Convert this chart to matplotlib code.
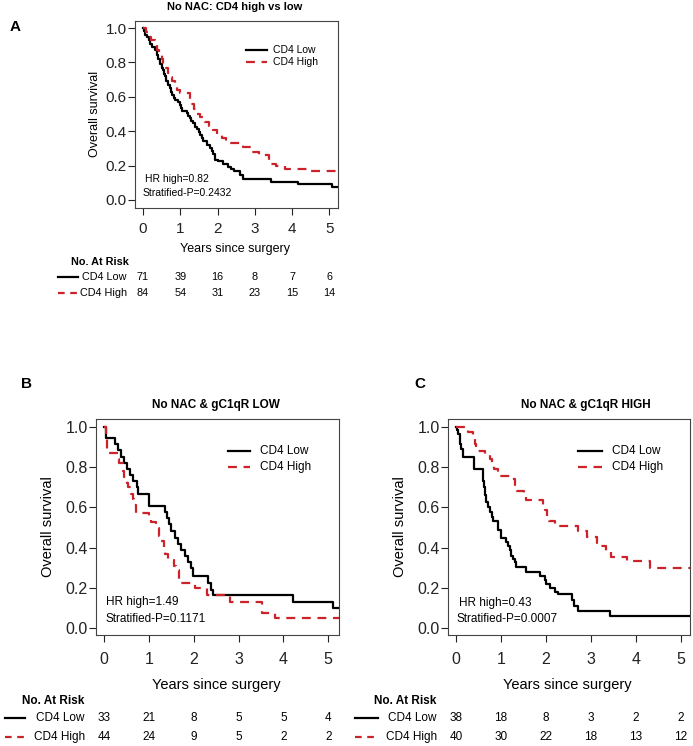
import numpy as np
import matplotlib
matplotlib.use("Agg")
import matplotlib.pyplot as plt
from matplotlib.lines import Line2D
from matplotlib.transforms import blended_transform_factory

plt.rcParams['font.family'] = ['Liberation Sans', 'DejaVu Sans']

W, H = 693, 746
RED = '#cc2229'

# ---- data (KM step points: time in years, survival) ----
a_low_t = [0, 0.03, 0.06, 0.10, 0.15, 0.19, 0.25, 0.32, 0.37, 0.41, 0.45, 0.50, 0.54, 0.57, 0.59,
           0.63, 0.68, 0.72, 0.75, 0.77, 0.82, 0.86, 0.93, 0.99, 1.02, 1.04, 1.17, 1.22, 1.26, 1.30,
           1.35, 1.40, 1.44, 1.50, 1.53, 1.57, 1.62, 1.71, 1.80, 1.86, 1.89, 1.93, 2.02, 2.15, 2.29,
           2.35, 2.45, 2.60, 2.69, 3.43, 4.16, 5.06]
a_low_s = [1.0, 0.985, 0.96, 0.945, 0.93, 0.91, 0.89, 0.87, 0.845, 0.82, 0.79, 0.77, 0.755, 0.735, 0.72,
           0.69, 0.67, 0.65, 0.63, 0.61, 0.595, 0.58, 0.57, 0.555, 0.535, 0.52, 0.505, 0.49, 0.475, 0.46,
           0.445, 0.425, 0.41, 0.395, 0.38, 0.36, 0.34, 0.32, 0.30, 0.285, 0.27, 0.235, 0.224, 0.21, 0.194,
           0.18, 0.168, 0.145, 0.12, 0.107, 0.091, 0.073]
a_high_t = [0, 0.08, 0.14, 0.22, 0.32, 0.38, 0.43, 0.50, 0.55, 0.60, 0.66, 0.72, 0.77, 0.85, 0.92, 1.0,
            1.27, 1.30, 1.36, 1.42, 1.52, 1.65, 1.78, 1.88, 1.98, 2.12, 2.22, 2.68, 2.90, 3.12, 3.38,
            3.42, 3.56, 3.80, 4.40]
a_high_s = [1.0, 0.975, 0.95, 0.93, 0.905, 0.87, 0.845, 0.82, 0.79, 0.77, 0.74, 0.715, 0.69, 0.665, 0.64, 0.62,
            0.585, 0.56, 0.53, 0.50, 0.48, 0.455, 0.43, 0.405, 0.38, 0.36, 0.33, 0.31, 0.28, 0.26, 0.235,
            0.21, 0.20, 0.18, 0.17]

b_low_t = [0, 0.03, 0.25, 0.30, 0.38, 0.45, 0.50, 0.58, 0.65, 0.72, 0.76, 1.0, 1.35, 1.40, 1.45, 1.50,
           1.58, 1.65, 1.72, 1.80, 1.88, 1.93, 1.98, 2.32, 2.38, 2.43, 4.22, 5.11]
b_low_s = [1.0, 0.945, 0.915, 0.885, 0.85, 0.82, 0.79, 0.76, 0.73, 0.70, 0.665, 0.605, 0.575, 0.545, 0.515, 0.485,
           0.45, 0.42, 0.39, 0.36, 0.33, 0.30, 0.258, 0.225, 0.19, 0.162, 0.131, 0.10]
b_high_t = [0, 0.03, 0.06, 0.30, 0.33, 0.41, 0.44, 0.50, 0.53, 0.60, 0.63, 0.66, 0.70, 1.0, 1.04, 1.15,
            1.22, 1.25, 1.33, 1.36, 1.42, 1.55, 1.60, 1.67, 1.70, 2.03, 2.30, 2.80, 3.52, 3.82]
b_high_s = [1.0, 0.95, 0.87, 0.84, 0.82, 0.78, 0.75, 0.72, 0.70, 0.665, 0.64, 0.61, 0.57, 0.545, 0.525, 0.50,
            0.46, 0.435, 0.40, 0.37, 0.34, 0.31, 0.29, 0.245, 0.225, 0.20, 0.165, 0.13, 0.075, 0.05]

c_low_t = [0, 0.02, 0.044, 0.08, 0.12, 0.155, 0.41, 0.60, 0.62, 0.64, 0.67, 0.72, 0.75, 0.79, 0.82, 0.93,
           1.01, 1.12, 1.16, 1.19, 1.23, 1.27, 1.30, 1.34, 1.56, 1.86, 1.97, 2.01, 2.08, 2.19, 2.27,
           2.57, 2.63, 2.70, 3.42]
c_low_s = [1.0, 0.985, 0.965, 0.915, 0.89, 0.85, 0.79, 0.73, 0.70, 0.66, 0.625, 0.60, 0.575, 0.55, 0.53, 0.49,
           0.45, 0.43, 0.41, 0.39, 0.36, 0.345, 0.33, 0.305, 0.28, 0.26, 0.24, 0.22, 0.20, 0.18, 0.17,
           0.14, 0.11, 0.085, 0.06]
c_high_t = [0, 0.27, 0.38, 0.42, 0.45, 0.64, 0.75, 0.80, 0.85, 0.93, 1.19, 1.30, 1.36, 1.50, 1.55, 1.93,
            1.97, 2.03, 2.07, 2.19, 2.71, 2.90, 3.13, 3.16, 3.33, 3.45, 3.80, 4.30]
c_high_s = [1.0, 0.975, 0.95, 0.915, 0.88, 0.86, 0.84, 0.815, 0.79, 0.757, 0.74, 0.71, 0.68, 0.66, 0.635, 0.60,
            0.585, 0.55, 0.53, 0.505, 0.484, 0.454, 0.425, 0.41, 0.385, 0.355, 0.335, 0.30]

years = [0, 1, 2, 3, 4, 5]
a_risk_low = [71, 39, 16, 8, 7, 6]
a_risk_high = [84, 54, 31, 23, 15, 14]
b_risk_low = [33, 21, 8, 5, 5, 4]
b_risk_high = [44, 24, 9, 5, 2, 2]
c_risk_low = [38, 18, 8, 3, 2, 2]
c_risk_high = [40, 30, 22, 18, 13, 12]

titles = ["No NAC: CD4 high vs low", "No NAC & gC1qR LOW", "No NAC & gC1qR HIGH"]
hr_text = ["HR high=0.82", "HR high=1.49", "HR high=0.43"]
p_text = ["Stratified-P=0.2432", "Stratified-P=0.1171", "Stratified-P=0.0007"]


def fx(x):
    return x / W


def fy(y):
    return 1 - y / H


fig = plt.figure(figsize=(W / 100, H / 100), dpi=100)


def panel(box, xlim, ylim, low, high, risk, title, hr, pv, lay):
    left, right, top, bottom = box
    ax = fig.add_axes([fx(left), fy(bottom), (right - left) / W, (bottom - top) / H])
    for (t, s), col, dash in [(low, 'black', None), (high, RED, (4, 3))]:
        tt = np.append(t, xlim[1] + 1)
        ss = np.append(s, s[-1])
        ln, = ax.step(tt, ss, where='post', color=col, lw=1.6)
        if dash:
            ln.set_dashes(dash)
    ax.set_xlim(*xlim)
    ax.set_ylim(*ylim)
    ax.set_xticks(years)
    ax.set_yticks([0, 0.2, 0.4, 0.6, 0.8, 1.0])
    ax.set_yticklabels(["%.1f" % v for v in [0, 0.2, 0.4, 0.6, 0.8, 1.0]])
    ax.tick_params(direction='out', length=5, width=0.8, labelsize=lay['tick'], colors='#222222')
    ax.tick_params(axis='y', pad=1)
    ax.tick_params(axis='x', pad=lay['xpad'])
    for sp in ax.spines.values():
        sp.set_color('#444444')
        sp.set_linewidth(0.8)

    fs = lay['lab']
    fig.text(fx(lay['title'][0]), fy(lay['title'][1]), title, ha='center', va='center',
             fontsize=lay['tfs'], fontweight='bold')
    fig.text(fx(lay['xlab'][0]), fy(lay['xlab'][1]), "Years since surgery", ha='center', va='center', fontsize=fs)
    fig.text(fx(lay['ylab'][0]), fy(lay['ylab'][1]), "Overall survival", ha='center', va='center',
             fontsize=fs, rotation=90)
    fig.text(fx(lay['letter'][0]), fy(lay['letter'][1]), lay['name'], ha='center', va='center',
             fontsize=11, fontweight='bold')

    # legend
    lx0, lx1, tx = lay['leg_x']
    for y, col, dash, lab in [(lay['leg_y'][0], 'black', None, "CD4 Low"),
                              (lay['leg_y'][1], RED, (4, 3), "CD4 High")]:
        ln = Line2D([fx(lx0), fx(lx1)], [fy(y), fy(y)], color=col, lw=1.6, transform=fig.transFigure)
        if dash:
            ln.set_dashes(dash)
        fig.lines.append(ln)
        fig.text(fx(tx), fy(y), lab, ha='left', va='center', fontsize=lay['leg'])

    fig.text(fx(lay['hr'][0]), fy(lay['hr'][1]), hr, ha='left', va='center', fontsize=lay['leg'])
    fig.text(fx(lay['pv'][0]), fy(lay['pv'][1]), pv, ha='left', va='center', fontsize=lay['leg'])

    # number at risk table
    tfs = lay['tab']
    fig.text(fx(lay['nar'][0]), fy(lay['nar'][1]), "No. At Risk", ha='center', va='center',
             fontsize=tfs, fontweight='bold')
    trans = blended_transform_factory(ax.transData, fig.transFigure)
    rx0, rx1, rlab = lay['row_x']
    for y, col, dash, lab, vals in [(lay['rows'][0], 'black', None, "CD4 Low", risk[0]),
                                    (lay['rows'][1], RED, (3, 2.5), "CD4 High", risk[1])]:
        ln = Line2D([fx(rx0), fx(rx1)], [fy(y), fy(y)], color=col, lw=1.6, transform=fig.transFigure)
        if dash:
            ln.set_dashes(dash)
        fig.lines.append(ln)
        fig.text(fx(rlab), fy(y), lab, ha='right', va='center', fontsize=tfs)
        for yr, v in zip(years, vals):
            fig.text(yr, fy(y), str(v), ha='center', va='center', fontsize=tfs, transform=trans)
    return ax


panel((135, 338, 21, 208), (-0.214, 5.23), (-0.047, 1.041),
      (a_low_t, a_low_s), (a_high_t, a_high_s), (a_risk_low, a_risk_high),
      titles[0], hr_text[0], p_text[0],
      dict(name='A', tick=11, xpad=5, lab=9, tfs=8, leg=7.5, tab=7.8,
           title=(235, 7), xlab=(235, 249), ylab=(95, 114), letter=(15, 27),
           leg_x=(246, 267, 273), leg_y=(50, 62), hr=(145, 179), pv=(142.5, 193),
           nar=(100, 262), row_x=(58, 78, 127), rows=(277, 293)))

panel((96, 339, 419, 635), (-0.185, 5.24), (-0.035, 1.04),
      (b_low_t, b_low_s), (b_high_t, b_high_s), (b_risk_low, b_risk_high),
      titles[1], hr_text[1], p_text[1],
      dict(name='B', tick=11.5, xpad=7, lab=10.5, tfs=8.5, leg=8.5, tab=8.5,
           title=(216, 405), xlab=(216, 685), ylab=(48, 527), letter=(27, 384),
           leg_x=(228, 250, 260), leg_y=(451, 467), hr=(106, 602), pv=(106, 619),
           nar=(53, 701), row_x=(5, 25, 85), rows=(718, 737)))

panel((448, 690, 419, 635), (-0.178, 5.2), (-0.035, 1.04),
      (c_low_t, c_low_s), (c_high_t, c_high_s), (c_risk_low, c_risk_high),
      titles[2], hr_text[2], p_text[2],
      dict(name='C', tick=11.5, xpad=7, lab=10.5, tfs=8.5, leg=8.5, tab=8.5,
           title=(586, 405), xlab=(567, 685), ylab=(400, 527), letter=(420, 384),
           leg_x=(578, 602, 612), leg_y=(451, 467), hr=(459, 603), pv=(457, 619),
           nar=(405, 701), row_x=(355, 378, 437), rows=(718, 737)))

fig.savefig("out.png", dpi=100)
